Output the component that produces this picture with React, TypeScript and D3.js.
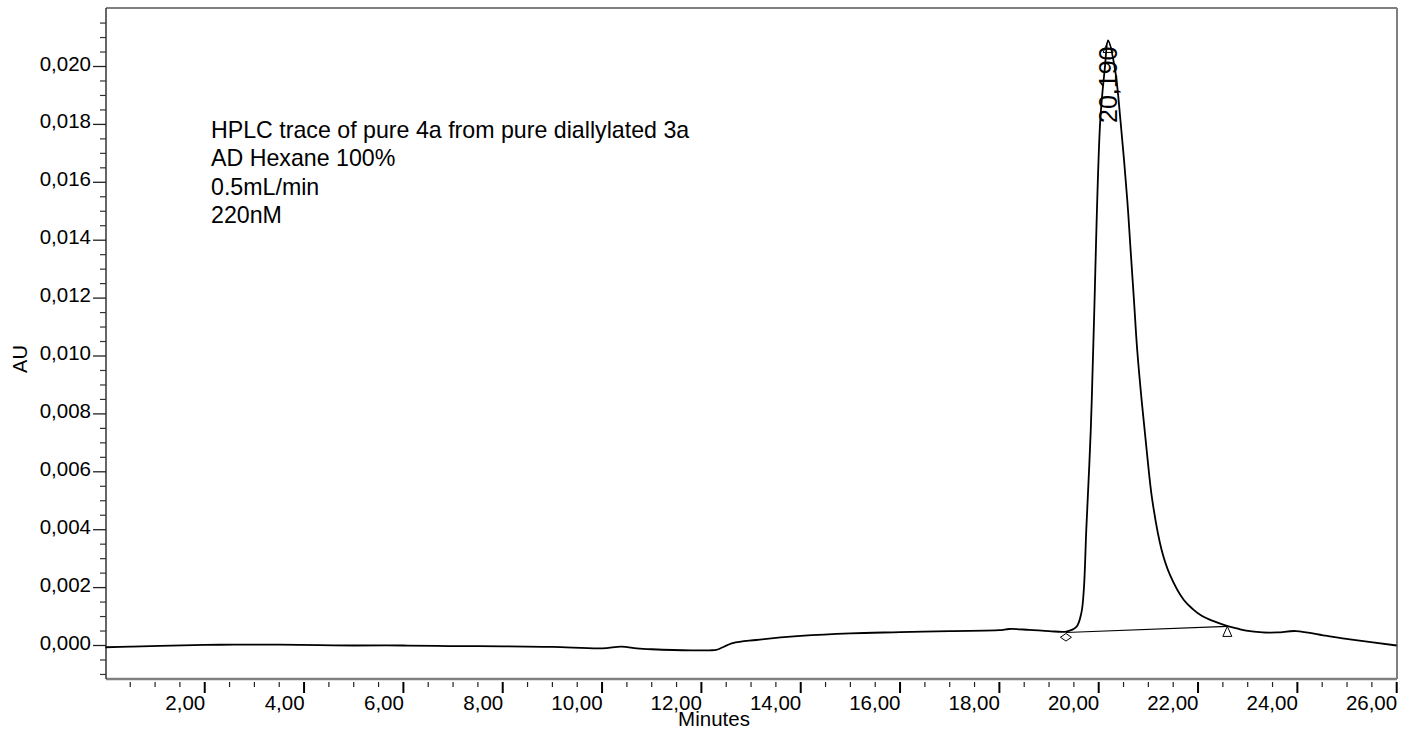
import React from 'react';
import * as d3 from 'd3';

// Chromatogram trace (minutes, AU)
const times = [
  0.0, 0.5, 1.1, 2.0, 2.6, 3.5, 4.3, 5.0, 6.0, 7.0, 8.0, 9.0, 10.0, 10.39, 10.7, 11.0, 11.8, 12.17, 12.3,
  12.63, 13.1, 14.0, 15.0, 16.0, 17.0, 18.0, 18.2, 18.6, 19.0, 19.35, 19.55, 19.65, 19.7, 19.75, 19.84,
  19.9, 20.03, 20.12, 20.19, 20.33, 20.44, 20.575, 20.643, 20.71, 20.776, 20.865, 20.966, 21.078, 21.267,
  21.435, 21.71, 21.9, 22.073, 22.3, 22.58, 22.8, 22.97, 23.3, 23.6, 23.97, 24.6, 25.06, 26.0,
];
const absorbance = [
  -0.00006, -0.00004, -0.00001, 0.00002, 0.00003, 0.00003, 0.00001, 0.0, 0.0, -0.00002, -0.00003, -0.00005,
  -0.0001, -0.00004, -0.0001, -0.00013, -0.00017, -0.000165, -0.00015,
  0.00008, 0.00019, 0.00033, 0.00042, 0.00046, 0.0005, 0.00053, 0.00057, 0.00054, 0.0005, 0.00048, 0.00064,
  0.00112, 0.00192, 0.004, 0.00744,
  0.0109, 0.0181, 0.01988, 0.0209, 0.01988, 0.0181, 0.01539, 0.01364, 0.01192, 0.01019, 0.00846, 0.00674,
  0.00503, 0.0033, 0.00244, 0.00158, 0.00125, 0.00103, 0.00085, 0.00068, 0.00058, 0.00051, 0.00045, 0.00045,
  0.0005, 0.00033, 0.00021, 0.0,
];

const yMajorTicks = [0, 0.002, 0.004, 0.006, 0.008, 0.01, 0.012, 0.014, 0.016, 0.018, 0.02];
const xMajorTicks = [2, 4, 6, 8, 10, 12, 14, 16, 18, 20, 22, 24, 26];
const annotationLines = [
  'HPLC trace of pure 4a from pure diallylated 3a',
  'AD Hexane 100%',
  '0.5mL/min',
  '220nM',
];
const peakTime = 20.19;
const peakValue = 0.0209;
const peakLabel = '20,190';
const baselineTimes = [19.34, 22.59];
const baselineValues = [0.00045, 0.00066];

const FONT = '"Liberation Sans", Arial, Helvetica, sans-serif';

export default function App() {
  const W = 1411;
  const H = 732;
  const left = 106;
  const right = 1397;
  const top = 8;
  const bottom = 679;

  const x = d3.scaleLinear().domain([0, 26]).range([105.4, 1396.7]);
  const y = d3.scaleLinear().domain([0, 0.02]).range([645.5, 66.5]);

  const pts: [number, number][] = times.map((t, i) => [t, absorbance[i]]);
  const line = d3
    .line<[number, number]>()
    .x((d) => x(d[0]))
    .y((d) => y(d[1]))
    .curve(d3.curveCatmullRom.alpha(0.5));

  const yMinor: number[] = [];
  for (let k = -2; k <= 43; k++) {
    const v = k * 0.0005;
    if (k % 4 !== 0) yMinor.push(v);
  }
  const xMinor: number[] = [];
  for (let k = 1; k <= 51; k++) {
    if (k % 4 !== 0) xMinor.push(k * 0.5);
  }

  const fmtY = (v: number) => d3.format('.3f')(v).replace('.', ',');
  const fmtX = (v: number) => d3.format('.2f')(v).replace('.', ',');

  const bx0 = x(baselineTimes[0]);
  const by0 = y(baselineValues[0]);
  const bx1 = x(baselineTimes[1]);
  const by1 = y(baselineValues[1]);
  const px = x(peakTime);
  const py = y(peakValue);

  return (
    <svg
      width={W}
      height={H}
      style={{ position: 'absolute', left: 0, top: 0, background: '#fff' }}
      fontFamily={FONT}
    >
      <rect x={0} y={0} width={W} height={H} fill="#fff" />
      {/* frame */}
      <line x1={left} y1={top} x2={right} y2={top} stroke="#808080" strokeWidth={2} />
      <line x1={right} y1={top} x2={right} y2={bottom} stroke="#808080" strokeWidth={2} />
      <line x1={left} y1={bottom} x2={right} y2={bottom} stroke="#808080" strokeWidth={2.5} />
      <line x1={left} y1={top} x2={left} y2={bottom} stroke="#333" strokeWidth={1.5} />

      {/* y ticks */}
      {yMinor.map((v) => (
        <line key={'ym' + v} x1={left - 6} x2={left} y1={y(v)} y2={y(v)} stroke="#333" strokeWidth={1.2} />
      ))}
      {yMajorTicks.map((v) => (
        <g key={'yM' + v}>
          <line x1={left - 13} x2={left} y1={y(v)} y2={y(v)} stroke="#222" strokeWidth={1.3} />
          <text x={91} y={y(v) + 4} textAnchor="end" fontSize={20.5} fill="#000">
            {fmtY(v)}
          </text>
        </g>
      ))}

      {/* x ticks */}
      {xMinor.map((t) => (
        <line key={'xm' + t} x1={x(t)} x2={x(t)} y1={bottom + 3} y2={bottom + 8} stroke="#222" strokeWidth={1.2} />
      ))}
      {xMajorTicks.map((t) => (
        <g key={'xM' + t}>
          <line x1={x(t)} x2={x(t)} y1={bottom + 3} y2={bottom + 14} stroke="#000" strokeWidth={2} />
          <text x={x(t) + 0.5} y={710} textAnchor="end" fontSize={20.5} fill="#000">
            {fmtX(t)}
          </text>
        </g>
      ))}

      {/* axis titles */}
      <text x={714} y={726} textAnchor="middle" fontSize={20.5} fill="#000">
        Minutes
      </text>
      <text transform="translate(27,359) rotate(-90)" textAnchor="middle" fontSize={20} fill="#000">
        AU
      </text>

      {/* annotation */}
      {annotationLines.map((s, i) => (
        <text key={s} x={211} y={138 + i * 28.4} fontSize={23.2} fill="#000">
          {s}
        </text>
      ))}

      {/* baseline */}
      <line x1={bx0} y1={by0} x2={bx1} y2={by1} stroke="#000" strokeWidth={1.1} />

      {/* trace */}
      <path d={line(pts) || ''} fill="none" stroke="#000" strokeWidth={1.8} strokeLinejoin="round" />

      {/* markers */}
      <path
        d={`M${bx0},${by0 + 1} L${bx0 + 5.5},${by0 + 4.8} L${bx0},${by0 + 8.6} L${bx0 - 5.5},${by0 + 4.8} Z`}
        fill="#fff"
        stroke="#000"
        strokeWidth={1}
      />
      <path
        d={`M${bx1},${by1} L${bx1 + 4.5},${by1 + 10} L${bx1 - 4.5},${by1 + 10} Z`}
        fill="#fff"
        stroke="#000"
        strokeWidth={1}
      />
      <path
        d={`M${px},${py} L${px + 5},${py + 12} L${px - 5},${py + 12} Z`}
        fill="none"
        stroke="#000"
        strokeWidth={1}
      />

      {/* peak label */}
      <text transform={`translate(${px + 8.5},123) rotate(-90)`} fontSize={25} fill="#000">
        {peakLabel}
      </text>
    </svg>
  );
}
